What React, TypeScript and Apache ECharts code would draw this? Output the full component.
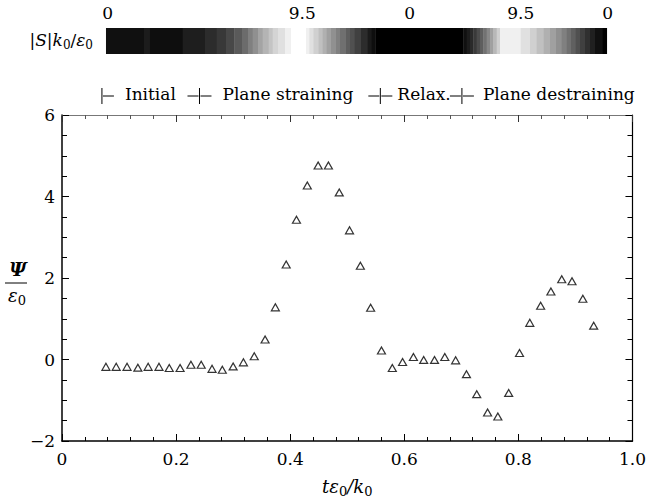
import React, { useEffect, useRef } from "react";
import * as echarts from "echarts";

// ---- data ----
const tValues = [
  0.077, 0.095, 0.114, 0.133, 0.151, 0.17, 0.188, 0.207, 0.226, 0.244,
  0.263, 0.281, 0.3, 0.318, 0.337, 0.356, 0.374, 0.393, 0.411, 0.43,
  0.449, 0.467, 0.486, 0.504, 0.523, 0.541, 0.56, 0.579, 0.597, 0.616,
  0.634, 0.653, 0.671, 0.69, 0.709, 0.727, 0.746, 0.764, 0.783, 0.802,
  0.82, 0.839, 0.857, 0.876, 0.894, 0.913, 0.932,
];
const psiValues = [
  -0.18, -0.18, -0.18, -0.2, -0.18, -0.18, -0.21, -0.21, -0.13, -0.13,
  -0.23, -0.25, -0.17, -0.07, 0.08, 0.49, 1.28, 2.33, 3.43, 4.27,
  4.76, 4.76, 4.1, 3.17, 2.3, 1.27, 0.22, -0.21, -0.06, 0.06,
  -0.01, -0.01, 0.06, -0.02, -0.36, -0.85, -1.3, -1.4, -0.82, 0.16,
  0.9, 1.32, 1.67, 1.97, 1.92, 1.49, 0.83,
];
const xTickLabels = ["0", "0.2", "0.4", "0.6", "0.8", "1.0"];
const phaseBounds = [0.07, 0.241, 0.558, 0.701];
const phaseNames = ["Initial", "Plane straining", "Relax.", "Plane destraining"];

// colour strip: |S|k0/eps0 along time
const stripeEdges = [
  0.0769, 0.1434, 0.1538, 0.211, 0.25, 0.2704, 0.2867, 0.3013, 0.3147, 0.3252,
  0.3333, 0.3427, 0.3508, 0.3613, 0.3683, 0.3776, 0.3899, 0.4003, 0.4266, 0.4324,
  0.4394, 0.4481, 0.4557, 0.4627, 0.4703, 0.4779, 0.486, 0.4953, 0.5035, 0.5117,
  0.5227, 0.5344, 0.5414, 0.5478, 0.7016, 0.7075, 0.7133, 0.7191, 0.7249, 0.7308,
  0.7366, 0.7424, 0.7483, 0.7541, 0.7599, 0.7657, 0.8019, 0.8182, 0.8298, 0.8415,
  0.8531, 0.8636, 0.8735, 0.8823, 0.8899, 0.898, 0.9056, 0.9143, 0.9231, 0.9318,
  0.9452, 0.9522,
];
const stripeValues = [
  0.6, 1.04, 0.52, 1.12, 1.64, 2.09, 2.68, 3.35, 4.02, 4.77,
  5.36, 6.11, 6.71, 7.3, 7.9, 8.35, 8.94, 9.5, 8.94, 8.35,
  7.75, 7.15, 6.56, 5.96, 5.36, 4.77, 4.17, 3.5, 2.98, 2.38,
  1.64, 0.97, 0.52, 0, 0.6, 1.04, 1.56, 2.16, 2.83, 3.5,
  4.25, 5.07, 5.96, 6.86, 7.75, 8.94, 8.35, 7.75, 7.15, 6.56,
  5.96, 5.36, 4.77, 4.17, 3.58, 2.98, 2.38, 1.79, 1.19, 0.6,
  0,
];
const stripMax = 9.5;
const stripLabelPos = [0.08, 0.42, 0.608, 0.802, 0.954];
const stripLabels = ["0", "9.5", "0", "9.5", "0"];

const FONT = "DejaVu Serif";

export default function App() {
  const ref = useRef<HTMLDivElement>(null);
  useEffect(() => {
    if (!ref.current) return;
    const chart = echarts.init(ref.current, undefined, { renderer: "svg" });
    const axisFont = { fontFamily: FONT, fontSize: 17, color: "#000" };
    const option: any = {
      animation: false,
      backgroundColor: "#fff",
      textStyle: { fontFamily: FONT },
      grid: [
        { left: 62, right: 15, top: 115, bottom: 54 },
        { left: 62, right: 15, top: 28, height: 26 },
      ],
      xAxis: [
        {
          gridIndex: 0,
          type: "value",
          position: "bottom",
          min: 0,
          max: 1,
          interval: 0.2,
          axisLine: { onZero: false, lineStyle: { color: "#000", width: 1.5 } },
          axisTick: { inside: true, length: 7, lineStyle: { color: "#000" } },
          minorTick: { show: true, splitNumber: 5, length: 4, lineStyle: { color: "#000" } },
          splitLine: { show: false },
          axisLabel: {
            ...axisFont,
            margin: 9,
            formatter: (v: number) => xTickLabels[Math.round(v / 0.2)] ?? "",
          },
          name: "{i|tε}{s|0}{i|/k}{s|0}",
          nameLocation: "middle",
          nameGap: 34,
          nameTextStyle: {
            rich: {
              i: { fontFamily: FONT, fontSize: 18, fontStyle: "italic", color: "#000" },
              s: { fontFamily: FONT, fontSize: 13, color: "#000", padding: [10, 0, 0, 0] },
            },
          },
        },
        {
          gridIndex: 0,
          type: "value",
          position: "top",
          min: 0,
          max: 1,
          interval: 0.2,
          axisLine: { onZero: false, lineStyle: { color: "#777", width: 1.2 } },
          axisTick: { inside: true, length: 7, lineStyle: { color: "#333" } },
          minorTick: { show: true, splitNumber: 5, length: 4, lineStyle: { color: "#555" } },
          splitLine: { show: false },
          axisLabel: { show: false },
        },
        { gridIndex: 1, type: "value", min: 0, max: 1, show: false },
      ],
      yAxis: [
        {
          gridIndex: 0,
          type: "value",
          position: "left",
          min: -2,
          max: 6,
          interval: 2,
          axisLine: { show: true, onZero: false, lineStyle: { color: "#000", width: 1.5 } },
          axisTick: { inside: true, length: 7, lineStyle: { color: "#000" } },
          minorTick: { show: true, splitNumber: 4, length: 5, lineStyle: { color: "#000" } },
          splitLine: { show: false },
          axisLabel: {
            ...axisFont,
            margin: 7,
            formatter: (v: number) => String(v).replace("-", "\u2212"),
          },
        },
        {
          gridIndex: 0,
          type: "value",
          position: "right",
          min: -2,
          max: 6,
          interval: 2,
          axisLine: { show: true, onZero: false, lineStyle: { color: "#000", width: 1.2 } },
          axisTick: { inside: true, length: 7, lineStyle: { color: "#000" } },
          minorTick: { show: true, splitNumber: 4, length: 5, lineStyle: { color: "#000" } },
          splitLine: { show: false },
          axisLabel: { show: false },
        },
        { gridIndex: 1, type: "value", min: 0, max: 1, show: false },
      ],
      series: [
        {
          type: "scatter",
          xAxisIndex: 0,
          yAxisIndex: 0,
          symbol: "triangle",
          symbolSize: [8, 7],
          itemStyle: { color: "#fff", borderColor: "#000", borderWidth: 1.2 },
          data: tValues.map((t, i) => [t, psiValues[i]]),
        },
        {
          type: "custom",
          xAxisIndex: 2,
          yAxisIndex: 2,
          encode: { x: [0, 1], y: 2 },
          data: stripeValues.map((v, i) => [stripeEdges[i], stripeEdges[i + 1], v]),
          renderItem: (params: any, api: any) => {
            const p0 = api.coord([api.value(0), 1]);
            const p1 = api.coord([api.value(1), 0]);
            const g = Math.round((api.value(2) / stripMax) * 255);
            return {
              type: "rect",
              shape: { x: p0[0], y: p0[1], width: p1[0] - p0[0] + 0.4, height: p1[1] - p0[1] },
              style: { fill: `rgb(${g},${g},${g})` },
            };
          },
        },
        {
          type: "custom",
          xAxisIndex: 2,
          yAxisIndex: 2,
          data: stripLabelPos.map((p) => [p, 1]),
          renderItem: (params: any, api: any) => {
            const p = api.coord([api.value(0), api.value(1)]);
            return {
              type: "text",
              x: p[0],
              y: p[1] - 15,
              style: {
                text: stripLabels[params.dataIndex],
                fontFamily: FONT,
                fontSize: 17,
                fill: "#000",
                align: "center",
                verticalAlign: "middle",
              },
            };
          },
        },
      ],
    };
    chart.setOption(option);

    // phase legend along time axis
    const nameOffsets = [23, 23, 17, 21];
    const els: any[] = [];
    phaseBounds.forEach((t, i) => {
      const px = chart.convertToPixel({ gridIndex: 0 }, [t, 6]) as number[];
      const x = px[0];
      const lineStyle = { stroke: "#000", lineWidth: 1 };
      els.push({ type: "line", shape: { x1: x, y1: 88, x2: x, y2: 104 }, style: lineStyle });
      els.push({ type: "line", shape: { x1: x + 1, y1: 96, x2: x + 12, y2: 96 }, style: lineStyle });
      if (i > 0) {
        els.push({ type: "line", shape: { x1: x - 12, y1: 96, x2: x - 1, y2: 96 }, style: lineStyle });
      }
      els.push({
        type: "text",
        x: x + nameOffsets[i],
        y: 94,
        style: {
          text: phaseNames[i],
          fontFamily: FONT,
          fontSize: 17,
          fill: "#000",
          verticalAlign: "middle",
        },
      });
    });
    // y-axis label Psi / eps0
    els.push({
      type: "text",
      x: 18,
      y: 269,
      style: {
        text: "Ψ",
        fontFamily: FONT,
        fontSize: 19,
        fontStyle: "italic",
        fontWeight: "bold",
        fill: "#000",
        align: "center",
        verticalAlign: "middle",
      },
    });
    els.push({ type: "line", shape: { x1: 5, y1: 283, x2: 27, y2: 283 }, style: { stroke: "#000", lineWidth: 1 } });
    els.push({
      type: "text",
      x: 17,
      y: 295,
      style: {
        text: "{i|ε}{s|0}",
        fill: "#000",
        align: "center",
        verticalAlign: "middle",
        rich: {
          i: { fontFamily: FONT, fontSize: 18, fontStyle: "italic", fill: "#000" },
          s: { fontFamily: FONT, fontSize: 13, fill: "#000", padding: [10, 0, 0, 0] },
        },
      },
    });
    // strip label
    els.push({
      type: "text",
      x: 93,
      y: 40,
      style: {
        text: "|{i|S}|{i|k}{s|0}/{i|ε}{s|0}",
        fill: "#000",
        fontFamily: FONT,
        fontSize: 17,
        align: "right",
        verticalAlign: "middle",
        rich: {
          i: { fontFamily: FONT, fontSize: 17, fontStyle: "italic", fill: "#000" },
          s: { fontFamily: FONT, fontSize: 12, fill: "#000", padding: [10, 0, 0, 0] },
        },
      },
    });
    chart.setOption({ graphic: { elements: els } });

    return () => chart.dispose();
  }, []);
  return (
    <div
      ref={ref}
      style={{ position: "absolute", left: 0, top: 0, width: 649, height: 503 }}
    />
  );
}
